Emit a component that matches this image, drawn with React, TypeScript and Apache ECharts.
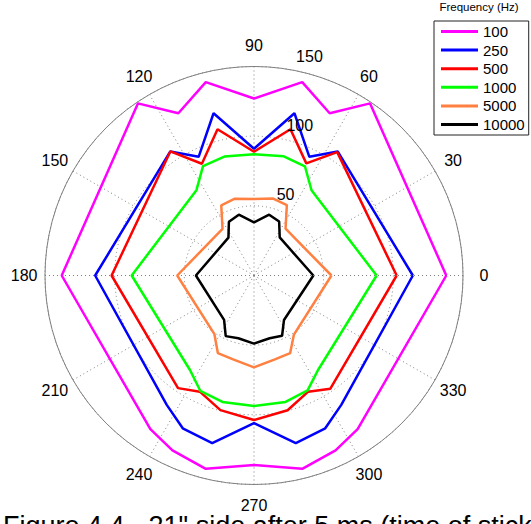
import React, { useEffect, useRef } from "react";
import * as echarts from "echarts";

const angles = [0, 56, 65, 76, 90, 104, 115, 124, 180, 236, 245, 256, 270, 284, 295, 304];
const f100 = [138, 149, 128.5, 143, 127, 143, 128.5, 149, 138, 133, 138.5, 143, 136, 143, 138.5, 133];
const f250 = [114, 107.4, 94, 120, 91, 120, 94, 107.4, 114, 112, 121, 124, 106, 124, 121, 112];
const f500 = [102.4, 106.8, 88.8, 108.2, 88.8, 108.2, 88.5, 107.4, 102.2, 97.5, 92, 99.6, 103.7, 99.7, 92, 98];
const f1000 = [88, 73.8, 86.5, 88.2, 87, 88, 86.6, 73.9, 87.8, 82, 91.3, 93.5, 93.7, 93.5, 91, 82];
const f5000 = [55.6, 40.5, 55.8, 56.9, 54.9, 56.8, 55.6, 40.4, 55.1, 50.8, 61.4, 62, 66, 62, 61.4, 51.2];
const f10000 = [42.6, 33, 42.7, 45, 38.2, 45, 42.6, 32.8, 41.7, 38.4, 48, 46.4, 48.9, 46.4, 47.7, 38.5];

const seriesNames = ["100", "250", "500", "1000", "5000", "10000"];
const seriesValues = [f100, f250, f500, f1000, f5000, f10000];
const seriesColors = ["#ff00ff", "#0000ff", "#ff0000", "#00ff00", "#ff8040", "#000000"];

const ringTicks = [50, 100, 150];
const ringLabelAngle = 82;
const angleTicks = [0, 30, 60, 90, 120, 150, 180, 210, 240, 270, 300, 330];
const angleLabelRadius = 165; // 1.1 x outer ring, as in MATLAB polar

const FONT = "'Liberation Sans', Arial, Helvetica, sans-serif";

export default function App() {
  const ref = useRef<HTMLDivElement>(null);
  useEffect(() => {
    if (!ref.current) return;
    const chart = echarts.init(ref.current, undefined, { renderer: "svg" });
    const lineSeries = seriesNames.map((name, k) => {
      const vals = seriesValues[k];
      const data = angles.map((a, i) => [vals[i], a]);
      data.push([vals[0], 360]);
      return {
        name,
        type: "line",
        coordinateSystem: "polar",
        data,
        symbol: "none",
        lineStyle: { color: seriesColors[k], width: 2.5 },
        itemStyle: { color: seriesColors[k] },
        z: 3 + k,
      };
    });
    const labelText = {
      show: true,
      fontSize: 16,
      color: "#000",
      opacity: 1,
      fontFamily: FONT,
      formatter: "{b}",
    };
    const option = {
      animation: false,
      backgroundColor: "#ffffff",
      polar: { center: [254, 275.5], radius: 209 },
      angleAxis: {
        type: "value",
        min: 0,
        max: 360,
        interval: 30,
        startAngle: 0,
        clockwise: false,
        axisLine: { show: true, lineStyle: { color: "#808080", width: 1 } },
        axisTick: { show: false },
        axisLabel: { show: false },
        splitLine: { show: true, lineStyle: { color: "#808080", width: 1, type: [1, 3] } },
      },
      radiusAxis: {
        type: "value",
        min: 0,
        max: 150,
        interval: 50,
        axisLine: { show: false },
        axisTick: { show: false },
        axisLabel: { show: false },
        splitLine: { show: true, lineStyle: { color: "#808080", width: 1, type: [1, 3] } },
      },
      legend: {
        orient: "vertical",
        left: 434,
        top: 21,
        itemWidth: 37,
        itemHeight: 3,
        itemGap: 3.6,
        itemTextGap: 5,
        icon: "rect",
        padding: [3, 4, 3, 7],
        borderColor: "#222",
        borderWidth: 1,
        backgroundColor: "#fff",
        textStyle: { fontSize: 15, color: "#000", fontFamily: FONT },
        data: seriesNames,
      },
      graphic: [
        {
          type: "text",
          x: 479,
          y: 7,
          style: {
            text: "Frequency (Hz)",
            textAlign: "center",
            textVerticalAlign: "middle",
            font: `11.5px ${FONT}`,
            fill: "#000",
          },
        },
        {
          type: "text",
          x: 3,
          y: 526,
          style: {
            text: 'Figure 4.4 - 21" side after 5 ms (time of stick',
            textAlign: "left",
            textVerticalAlign: "middle",
            font: `27px ${FONT}`,
            fill: "#000",
          },
        },
      ],
      series: [
        ...lineSeries,
        {
          type: "scatter",
          coordinateSystem: "polar",
          symbolSize: 0,
          silent: true,
          clip: false,
          itemStyle: { opacity: 1 },
          data: ringTicks.map((t) => ({ value: [t, ringLabelAngle], name: String(t) })),
          label: { ...labelText, position: [13, -4], align: "left", verticalAlign: "bottom" },
          z: 10,
        },
        {
          type: "scatter",
          coordinateSystem: "polar",
          symbolSize: 0,
          silent: true,
          clip: false,
          itemStyle: { opacity: 1 },
          data: angleTicks.map((a) => ({ value: [angleLabelRadius, a], name: String(a) })),
          label: { ...labelText, position: [0, 0], align: "center", verticalAlign: "middle" },
          z: 10,
        },
      ],
    };
    chart.setOption(option as any);
    return () => chart.dispose();
  }, []);
  return (
    <div
      ref={ref}
      style={{ position: "fixed", left: 0, top: 0, width: 531, height: 524, background: "#fff" }}
    />
  );
}
